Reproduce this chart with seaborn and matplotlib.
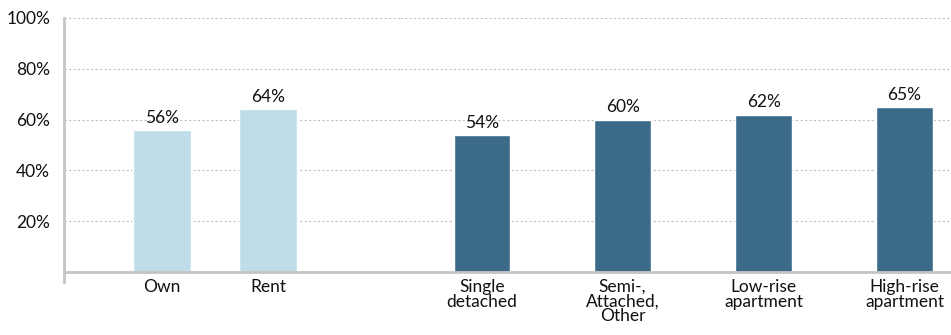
import matplotlib
matplotlib.use("Agg")
import matplotlib.pyplot as plt
import pandas as pd
import seaborn as sns

sns.set_theme(style="white")
plt.rcParams['font.family'] = ['Lato', 'DejaVu Sans']

# tenure (left group) and dwelling type (right group)
tenure = ["Own", "Rent"]
tenure_pct = [56, 64]
dwelling = ["Single\ndetached", "Semi-,\nAttached,\nOther", "Low-rise\napartment", "High-rise\napartment"]
dwelling_pct = [54, 60, 62, 65]
yticks = [0, 20, 40, 60, 80, 100]
ytick_labels = ["", "20%", "40%", "60%", "80%", "100%"]

light = "#bedde8"
dark = "#3c6b8a"
grey = "#c4c4c4"
fs = 12.5

fig = plt.figure(figsize=(9.51, 3.35), dpi=100)
bottom = (335 - 272) / 335
height = (272 - 18) / 335
split = 400 / 951
ax1 = fig.add_axes([64 / 951, bottom, split - 64 / 951, height])
ax2 = fig.add_axes([split, bottom, 1 - split, height], sharey=ax1)

df1 = pd.DataFrame({"cat": tenure, "pct": tenure_pct})
df2 = pd.DataFrame({"cat": dwelling, "pct": dwelling_pct})

sns.barplot(data=df1, x="cat", y="pct", color=light, saturation=1, width=0.54, ax=ax1)
sns.barplot(data=df2, x="cat", y="pct", color=dark, saturation=1, width=0.40, ax=ax2)

ax1.set_xlim(-0.925, 2.245)
ax2.set_xlim(-0.58, 3.33)
ax1.set_ylim(0, 100)

for ax in (ax1, ax2):
    ax.bar_label(ax.containers[0], fmt="%d%%", fontsize=fs, padding=3, color="#111111")
    ax.set_xlabel("")
    ax.set_ylabel("")
    ax.set_yticks(yticks)
    ax.yaxis.grid(True, linestyle=(0, (2, 2)), color="#c0c0c0", linewidth=0.8)
    ax.set_axisbelow(True)
    for s in ("top", "right"):
        ax.spines[s].set_visible(False)
    ax.spines["bottom"].set_color(grey)
    ax.spines["bottom"].set_linewidth(2)
    ax.tick_params(axis="x", length=0, labelsize=fs, pad=5, colors="#111111")
    for lab in ax.get_xticklabels():
        lab.set_linespacing(0.9)

ax1.set_yticklabels(ytick_labels)
ax1.tick_params(axis="y", length=7, width=1, labelsize=fs, pad=3, colors="#111111")
ax1.tick_params(axis="y", color=grey)
ax1.spines["left"].set_color(grey)
ax1.spines["left"].set_linewidth(2)
ax1.spines["left"].set_bounds(-4, 100)

ax2.spines["left"].set_visible(False)
ax2.tick_params(axis="y", left=False, labelleft=False)

plt.savefig("out.png", dpi=100)
